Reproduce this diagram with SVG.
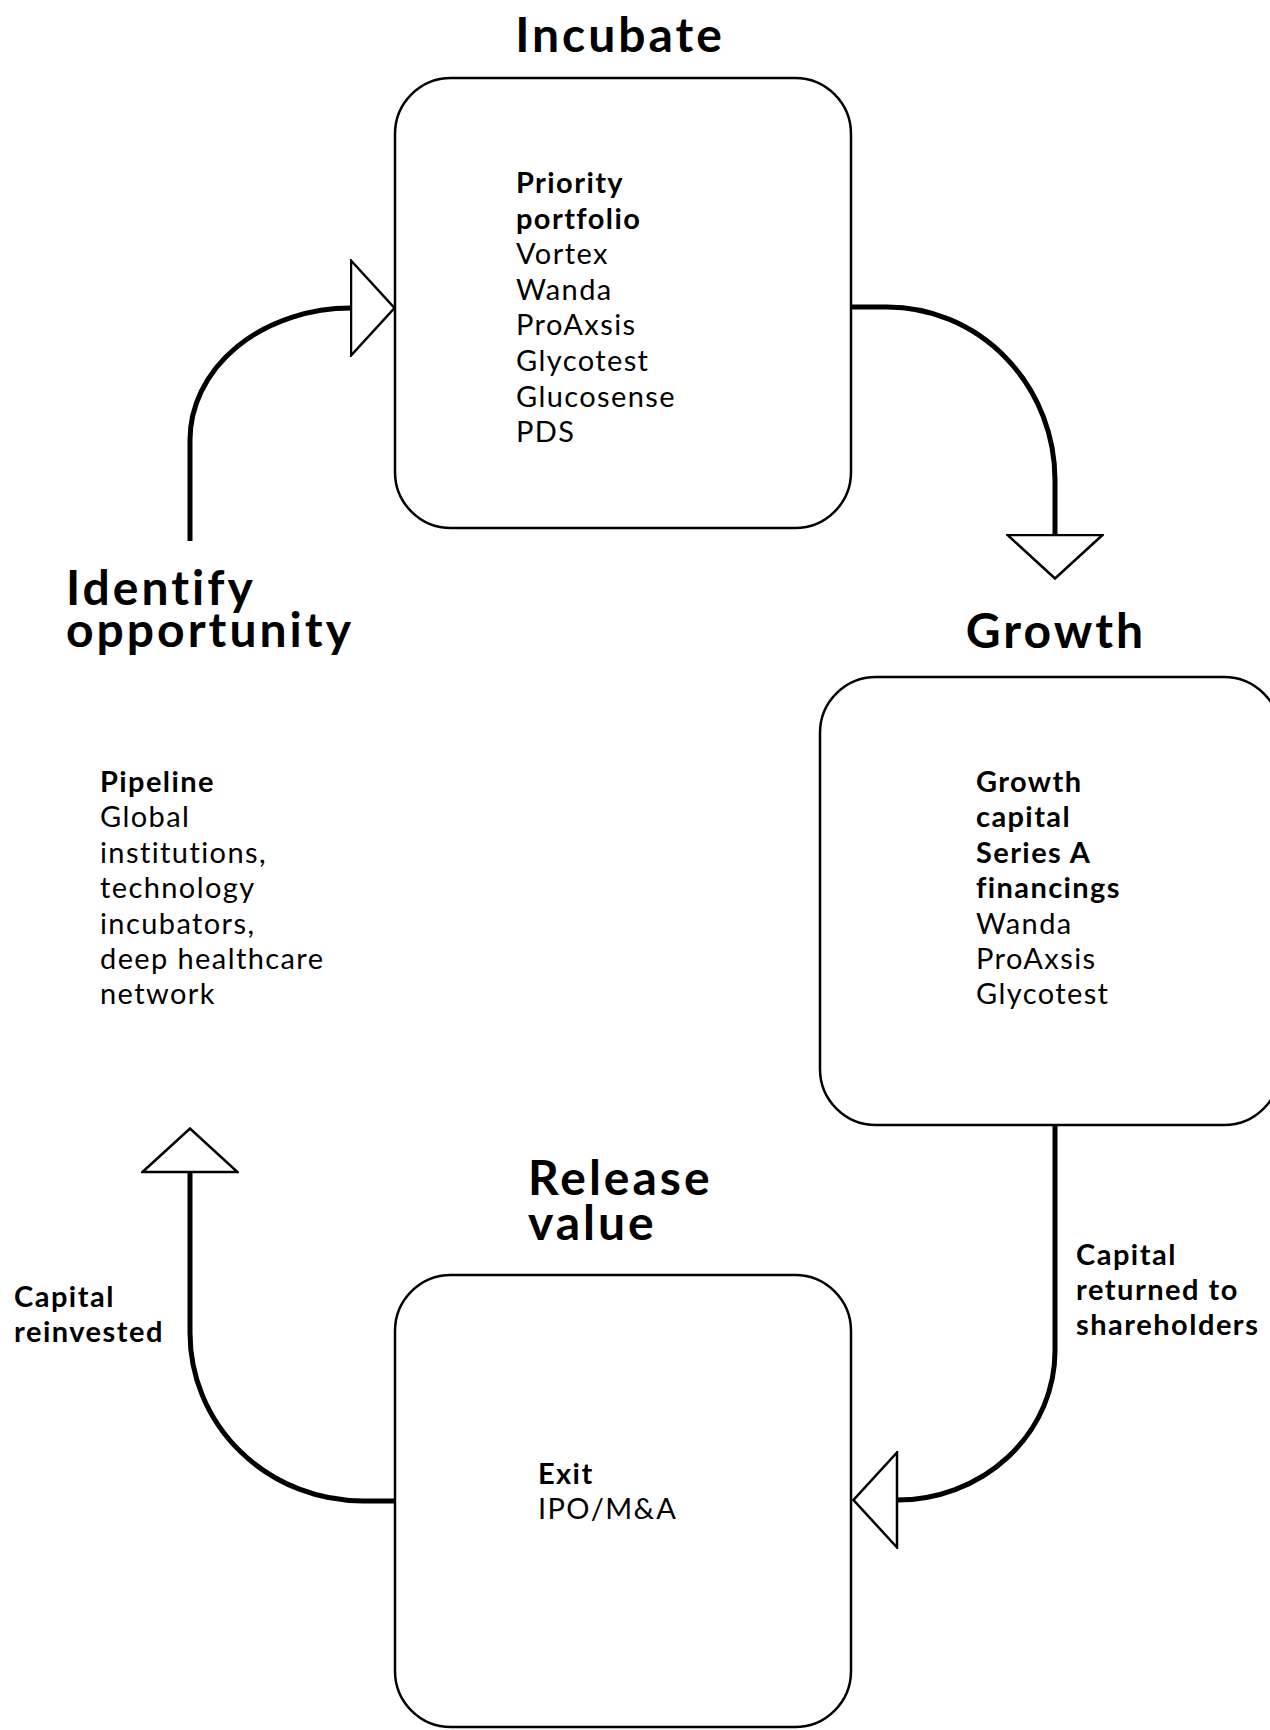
<svg xmlns="http://www.w3.org/2000/svg" width="1270" height="1730" viewBox="0 0 1270 1730">
<style>
  text { font-family: Lato, "Noto Sans", sans-serif; fill: #000; }
  .title { font-size: 48px; font-weight: 700; letter-spacing: 3px; }
  .body { font-size: 29px; font-weight: 400; letter-spacing: 1.4px; }
  .b { font-weight: 700; }
  .lbl { font-size: 29px; font-weight: 700; letter-spacing: 1.5px; }
  .box { fill: #fff; stroke: #000; stroke-width: 2.5; }
  .conn { fill: none; stroke: #000; stroke-width: 5; }
</style>
<defs>
  <marker id="tri" viewBox="0 0 47 98" refX="1.5" refY="49" markerWidth="47" markerHeight="98" markerUnits="userSpaceOnUse" orient="auto">
    <path d="M1.5,1.5 L45,49 L1.5,96.5 Z" fill="#fff" stroke="#000" stroke-width="2.5"/>
  </marker>
</defs>
<rect width="1270" height="1730" fill="#fff"/>

<g id="connectors">
  <path class="conn" d="M190,541 L190,440 A161,132 0 0 1 351,308" marker-end="url(#tri)"/>
  <path class="conn" d="M851,307 L887,307 A168,173 0 0 1 1055,480 L1055,535" marker-end="url(#tri)"/>
  <path class="conn" d="M1055,1125 L1055,1351 A158,149 0 0 1 897,1500" marker-end="url(#tri)"/>
  <path class="conn" d="M395,1501 L363,1501 A173,168 0 0 1 190,1333 L190,1172" marker-end="url(#tri)"/>
  <text class="lbl" x="1076" y="1265">Capital</text>
  <text class="lbl" x="1076" y="1300">returned to</text>
  <text class="lbl" x="1076" y="1335">shareholders</text>
  <text class="lbl" x="14" y="1307">Capital</text>
  <text class="lbl" x="14" y="1342">reinvested</text>
</g>

<g id="incubate">
  <text class="title" x="620" y="52" text-anchor="middle">Incubate</text>
  <rect class="box" x="395" y="78" width="456" height="450" rx="56"/>
  <text class="body" x="516">
    <tspan class="b" x="516" y="193">Priority</tspan>
    <tspan class="b" x="516" y="228.6">portfolio</tspan>
    <tspan x="516" y="264.2">Vortex</tspan>
    <tspan x="516" y="299.8">Wanda</tspan>
    <tspan x="516" y="335.4">ProAxsis</tspan>
    <tspan x="516" y="371">Glycotest</tspan>
    <tspan x="516" y="406.6">Glucosense</tspan>
    <tspan x="516" y="442.2">PDS</tspan>
  </text>
</g>

<g id="growth">
  <text class="title" x="1056" y="648" text-anchor="middle">Growth</text>
  <rect class="box" x="820" y="677" width="460" height="448" rx="56"/>
  <text class="body" x="976">
    <tspan class="b" x="976" y="792">Growth</tspan>
    <tspan class="b" x="976" y="827.4">capital</tspan>
    <tspan class="b" x="976" y="862.8">Series A</tspan>
    <tspan class="b" x="976" y="898.2">financings</tspan>
    <tspan x="976" y="933.6">Wanda</tspan>
    <tspan x="976" y="969">ProAxsis</tspan>
    <tspan x="976" y="1004.4">Glycotest</tspan>
  </text>
</g>

<g id="release">
  <text class="title" x="528">
    <tspan x="528" y="1195">Release</tspan>
    <tspan x="528" y="1240">value</tspan>
  </text>
  <rect class="box" x="395" y="1275" width="456" height="452" rx="56"/>
  <text class="body" x="538">
    <tspan class="b" x="538" y="1484">Exit</tspan>
    <tspan x="538" y="1519">IPO/M&amp;A</tspan>
  </text>
</g>

<g id="identify">
  <text class="title" x="66">
    <tspan x="66" y="605">Identify</tspan>
    <tspan x="66" y="647">opportunity</tspan>
  </text>
  <text class="body" x="100">
    <tspan class="b" x="100" y="792">Pipeline</tspan>
    <tspan x="100" y="827.4">Global</tspan>
    <tspan x="100" y="862.8">institutions,</tspan>
    <tspan x="100" y="898.2">technology</tspan>
    <tspan x="100" y="933.6">incubators,</tspan>
    <tspan x="100" y="969">deep healthcare</tspan>
    <tspan x="100" y="1004.4">network</tspan>
  </text>
</g>
</svg>
